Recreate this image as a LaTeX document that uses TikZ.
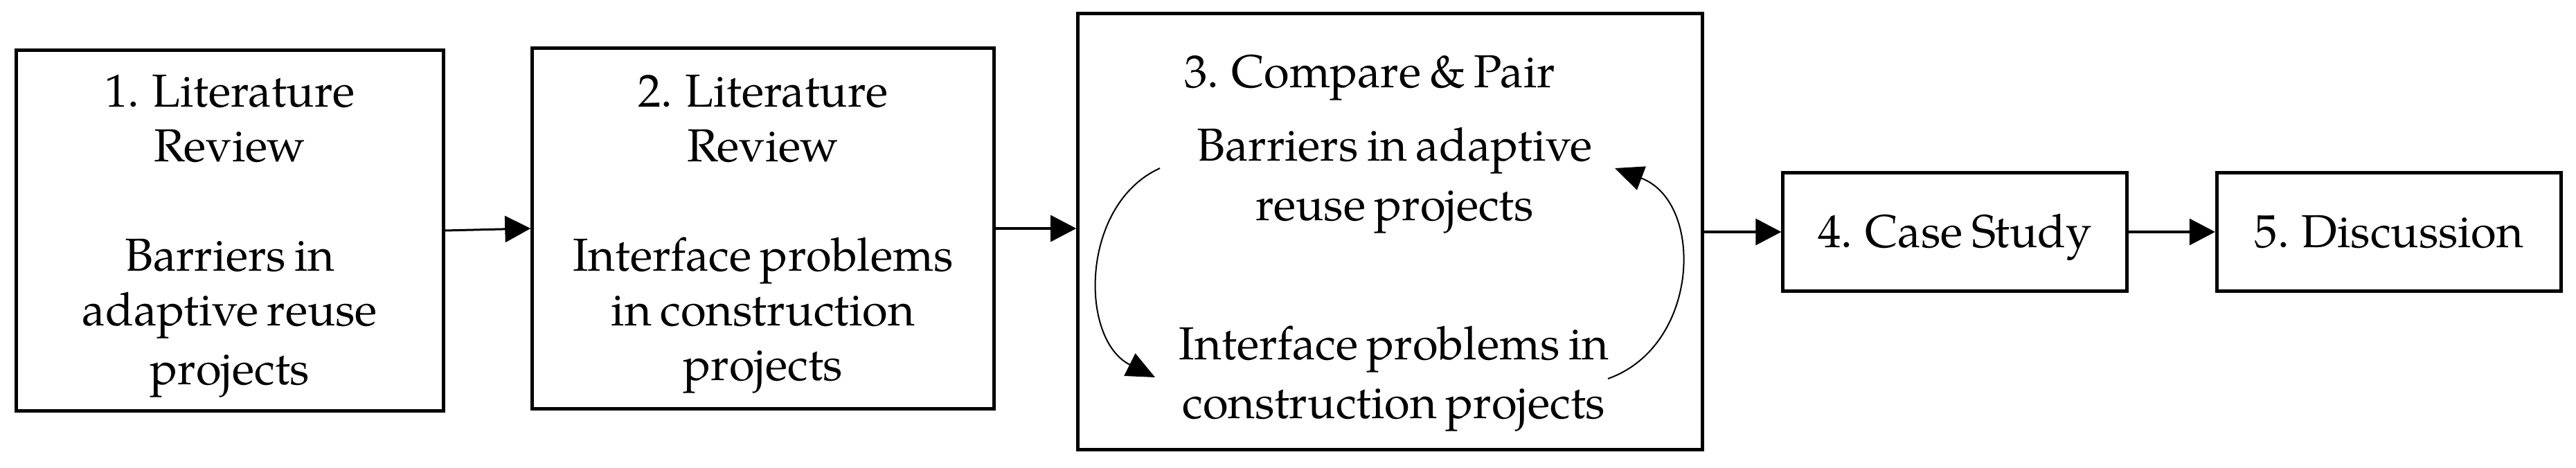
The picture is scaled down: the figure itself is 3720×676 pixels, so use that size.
\documentclass[tikz,border=0pt]{standalone}
\usepackage{fontspec}
\setmainfont{texgyrepagella}[Extension=.otf, UprightFont=*-regular, BoldFont=*-bold, ItalicFont=*-italic, BoldItalicFont=*-bolditalic, WordSpace=0.75]
\usetikzlibrary{arrows.meta}
\newcommand\mystrut{\rule[-0.19cm]{0pt}{0.82cm}}
\begin{document}
\begin{tikzpicture}[x=0.01cm,y=-0.01cm,
  txt/.style={font=\fontsize{19}{22.5}\selectfont, align=center, inner sep=0pt},
  box/.style={txt, draw, line width=0.05cm},
  arr/.style={-{Triangle[length=0.37cm,width=0.38cm]}, line width=0.03cm},
  carr/.style={-{Triangle[length=0.41cm,width=0.36cm]}, line width=0.02cm}]
\path[fill=white, use as bounding box] (0,0) rectangle (3720,676);

\node[box, minimum width=6.16cm, minimum height=5.20cm] (b1) at (332,333)
  {\mystrut 1. Literature\\Review\\[0.79cm]Barriers in\\adaptive reuse\\projects\mystrut};
\node[box, minimum width=6.66cm, minimum height=5.20cm] (b2) at (1102,330)
  {\mystrut 2. Literature\\Review\\[0.79cm]Interface problems\\in construction\\projects\mystrut};
\node[box, minimum width=9.01cm, minimum height=6.29cm] (b3) at (2007.5,334.5) {};
\node[box, minimum width=4.96cm, minimum height=1.70cm] (b4) at (2823,335) {\mystrut 4. Case Study};
\node[box, minimum width=4.97cm, minimum height=1.70cm] (b5) at (3450,335) {\mystrut 5. Discussion};

\node[txt, anchor=base] (t3) at (1978,127) {3. Compare \& Pair};
\node[txt] (ba) at (2014,253.5) {\mystrut Barriers in adaptive\\reuse projects\mystrut};
\node[txt] (ip) at (2013,540) {\mystrut Interface problems in\\construction projects\mystrut};

\coordinate (l1) at (1675,243);
\coordinate (l2) at (1668,545);
\coordinate (r1) at (2322,547);
\coordinate (r2) at (2332,243);
\draw[carr] (l1) .. controls (1560,295) and (1558,490) .. (l2);
\draw[carr] (r1) .. controls (2455,500) and (2462,292) .. (r2);

\draw[arr] (b1.east) -- (b2.west);
\draw[arr] (b2.east) -- (b3.west |- b2.east);
\draw[arr] (b3.east |- b4.west) -- (b4.west);
\draw[arr] (b4.east) -- (b5.west);
\end{tikzpicture}
\end{document}
